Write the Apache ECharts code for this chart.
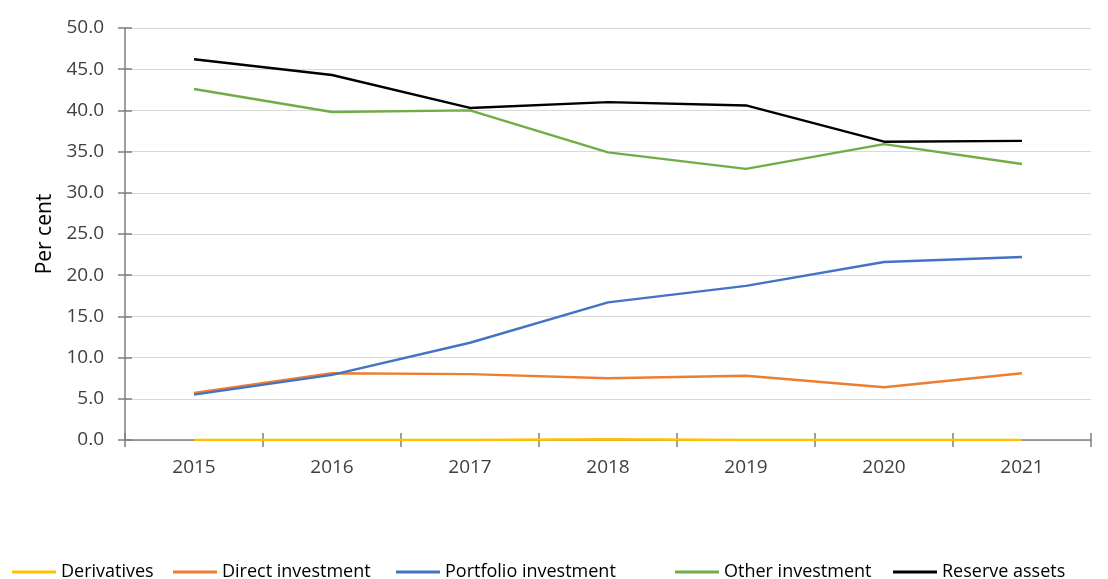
<!DOCTYPE html>
<html>
<head>
<meta charset="utf-8">
<style>
  html, body { margin: 0; padding: 0; background: #ffffff; }
  #chart { width: 1108px; height: 579px; }
</style>
<script src="https://cdn.jsdelivr.net/npm/echarts@6/dist/echarts.min.js"></script>
</head>
<body>
<div id="chart"></div>
<script>
// Years on the category axis
const years = ['2015', '2016', '2017', '2018', '2019', '2020', '2021'];

// Series names, in legend order
const seriesNames = ['Derivatives', 'Direct investment', 'Portfolio investment', 'Other investment', 'Reserve assets'];

// Shares of each component, per cent
const derivatives = [0.0, 0.0, 0.0, 0.1, 0.0, 0.0, 0.0];
const directInvestment = [5.7, 8.1, 8.0, 7.5, 7.8, 6.4, 8.1];
const portfolioInvestment = [5.5, 7.9, 11.8, 16.7, 18.7, 21.6, 22.2];
const otherInvestment = [42.6, 39.8, 40.0, 34.9, 32.9, 35.9, 33.5];
const reserveAssets = [46.2, 44.3, 40.3, 41.0, 40.6, 36.2, 36.3];

const FONT = '"Open Sans", "Noto Sans", sans-serif';
const TEXT = '#404040';
const AXIS = '#7f7f7f';
const COLORS = ['#FFC000', '#ED7D31', '#4472C4', '#70AD47', '#000000'];

// Left edge of each legend entry along the bottom row
const legendLeft = [12, 173, 396, 675, 893];

const chart = echarts.init(document.getElementById('chart'), null, { renderer: 'canvas' });

function line(name, data, color) {
  return {
    name: name,
    type: 'line',
    data: data,
    symbol: 'none',
    smooth: false,
    lineStyle: { color: color, width: 2.4 },
    itemStyle: { color: color },
    emphasis: { disabled: true }
  };
}

const yBase = { type: 'value', min: 0, max: 50, interval: 5 };

const legends = seriesNames.map((name, i) => ({
  top: 563,
  left: legendLeft[i],
  padding: 0,
  itemWidth: 44,
  itemHeight: 3,
  icon: 'rect',
  textStyle: { fontFamily: FONT, fontSize: 18, color: '#000000' },
  data: [name]
}));

chart.setOption({
  animation: false,
  backgroundColor: '#ffffff',
  grid: { left: 125, right: 17, top: 28, bottom: 139, containLabel: false },
  legend: legends,
  xAxis: [
    {
      type: 'category',
      data: years,
      boundaryGap: true,
      axisLine: { lineStyle: { color: AXIS, width: 1.5 } },
      axisTick: { show: true, length: 7, lineStyle: { color: AXIS, width: 1.5 } },
      axisLabel: { margin: 18, fontFamily: FONT, fontSize: 19, color: TEXT },
      splitLine: { show: false }
    },
    {
      type: 'category',
      data: years,
      position: 'bottom',
      boundaryGap: true,
      axisLine: { show: false },
      axisTick: { show: true, inside: true, length: 7, lineStyle: { color: AXIS, width: 1.5 } },
      axisLabel: { show: false },
      splitLine: { show: false }
    }
  ],
  yAxis: [
    Object.assign({}, yBase, {
      name: 'Per cent',
      nameLocation: 'middle',
      nameGap: 65,
      nameRotate: 90,
      nameTextStyle: { fontFamily: FONT, fontSize: 21, color: '#000000' },
      axisLine: { show: true, lineStyle: { color: AXIS, width: 1.5 } },
      axisTick: { show: true, length: 7, lineStyle: { color: AXIS, width: 1.5 } },
      axisLabel: {
        margin: 21, fontFamily: FONT, fontSize: 19, color: TEXT,
        formatter: v => v.toFixed(1)
      },
      splitLine: { show: true, lineStyle: { color: '#d9d9d9', width: 1 } }
    }),
    Object.assign({}, yBase, {
      position: 'left',
      axisLine: { show: false },
      axisTick: { show: true, inside: true, length: 7, lineStyle: { color: AXIS, width: 1.5 } },
      axisLabel: { show: false },
      splitLine: { show: false }
    })
  ],
  series: [
    line(seriesNames[0], derivatives, COLORS[0]),
    line(seriesNames[1], directInvestment, COLORS[1]),
    line(seriesNames[2], portfolioInvestment, COLORS[2]),
    line(seriesNames[3], otherInvestment, COLORS[3]),
    line(seriesNames[4], reserveAssets, COLORS[4])
  ]
});
</script>
</body>
</html>
